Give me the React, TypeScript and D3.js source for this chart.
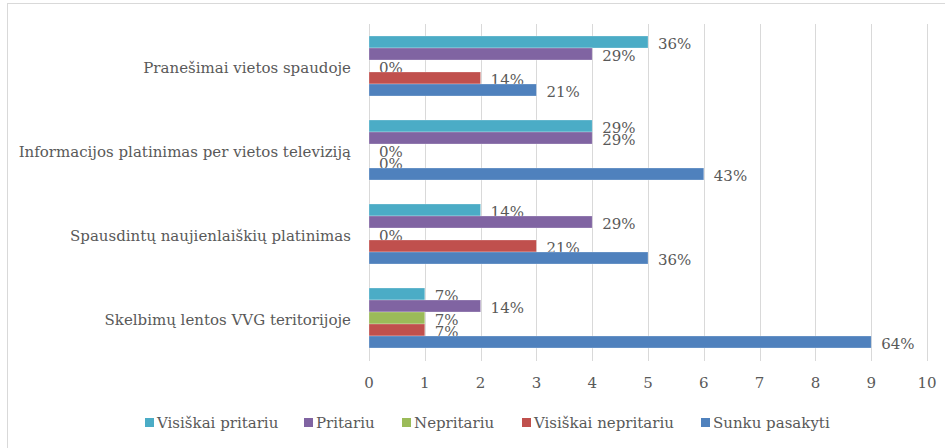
import React from 'react';
import * as d3 from 'd3';

const categories = [
  'Pranešimai vietos spaudoje',
  'Informacijos platinimas per vietos televiziją',
  'Spausdintų naujienlaiškių platinimas',
  'Skelbimų lentos VVG teritorijoje',
];
const seriesNames = ['Visiškai pritariu', 'Pritariu', 'Nepritariu', 'Visiškai nepritariu', 'Sunku pasakyti'];
const seriesColors = ['#4BACC6', '#8064A2', '#9BBB59', '#C0504D', '#4F81BD'];

const visiskaiPritariu = [5, 4, 2, 1];
const pritariu = [4, 4, 4, 2];
const nepritariu = [0, 0, 0, 1];
const visiskaiNepritariu = [2, 0, 3, 1];
const sunkuPasakyti = [3, 6, 5, 9];

const visiskaiPritariuLabels = ['36%', '29%', '14%', '7%'];
const pritariuLabels = ['29%', '29%', '29%', '14%'];
const nepritariuLabels = ['0%', '0%', '0%', '7%'];
const visiskaiNepritariuLabels = ['14%', '0%', '21%', '7%'];
const sunkuPasakytiLabels = ['21%', '43%', '36%', '64%'];

const xTicks = [0, 1, 2, 3, 4, 5, 6, 7, 8, 9, 10];

const W = 945;
const H = 448;
const FONT = '"DejaVu Serif", serif';
const FS = 15;
const TEXT = '#595959';
const GRID = '#d9d9d9';

export default function App() {
  const seriesValues = [visiskaiPritariu, pritariu, nepritariu, visiskaiNepritariu, sunkuPasakyti];
  const seriesLabels = [visiskaiPritariuLabels, pritariuLabels, nepritariuLabels, visiskaiNepritariuLabels, sunkuPasakytiLabels];

  const x = d3.scaleLinear().domain([0, 10]).range([369, 927]);
  const y = d3.scaleBand<string>().domain(categories).range([24, 360]).paddingInner(24 / 84).paddingOuter(12 / 84);
  const ys = d3.scaleBand<string>().domain(seriesNames).range([0, y.bandwidth()]);

  const legendX = [145, 304, 402, 522, 701];

  return (
    <div style={{ position: 'absolute', left: 0, top: 0, width: W, height: H, background: '#fff' }}>
      <svg width={W} height={H} style={{ display: 'block' }}>
        <rect x={0} y={0} width={W} height={H} fill="#fff" />
        <rect x={7.5} y={3.5} width={W + 10} height={H + 10} fill="none" stroke={GRID} strokeWidth={1} />
        {xTicks.map((t) => (
          <line key={'g' + t} x1={Math.round(x(t)) + 0.5} x2={Math.round(x(t)) + 0.5} y1={24} y2={361} stroke={GRID} strokeWidth={1} />
        ))}
        {categories.map((c, ci) => (
          <g key={c}>
            {seriesNames.map((s, si) => {
              const v = seriesValues[si][ci];
              const by = (y(c) as number) + (ys(s) as number);
              return (
                <g key={s}>
                  {v > 0 && (
                    <rect x={x(0)} y={by} width={x(v) - x(0)} height={ys.bandwidth()} fill={seriesColors[si]} stroke="rgba(255,255,255,0.35)" strokeWidth={0.75} />
                  )}
                  <text
                    x={x(v) + 10}
                    y={by + ys.bandwidth() / 2 + 2}
                    dominantBaseline="central"
                    fontFamily={FONT}
                    fontSize={FS}
                    fill={TEXT}
                  >
                    {seriesLabels[si][ci]}
                  </text>
                </g>
              );
            })}
            <text
              x={351}
              y={(y(c) as number) + y.bandwidth() / 2 + 2}
              textAnchor="end"
              dominantBaseline="central"
              fontFamily={FONT}
              fontSize={FS}
              fill={TEXT}
            >
              {c}
            </text>
          </g>
        ))}
        {xTicks.map((t) => (
          <text key={'t' + t} x={x(t)} y={383} textAnchor="middle" dominantBaseline="central" fontFamily={FONT} fontSize={FS} fill={TEXT}>
            {t}
          </text>
        ))}
        {seriesNames.map((s, si) => (
          <g key={'l' + s}>
            <rect x={legendX[si]} y={418} width={9} height={9} fill={seriesColors[si]} />
            <text x={legendX[si] + 12} y={423} dominantBaseline="central" fontFamily={FONT} fontSize={FS} fill={TEXT}>
              {s}
            </text>
          </g>
        ))}
      </svg>
    </div>
  );
}
